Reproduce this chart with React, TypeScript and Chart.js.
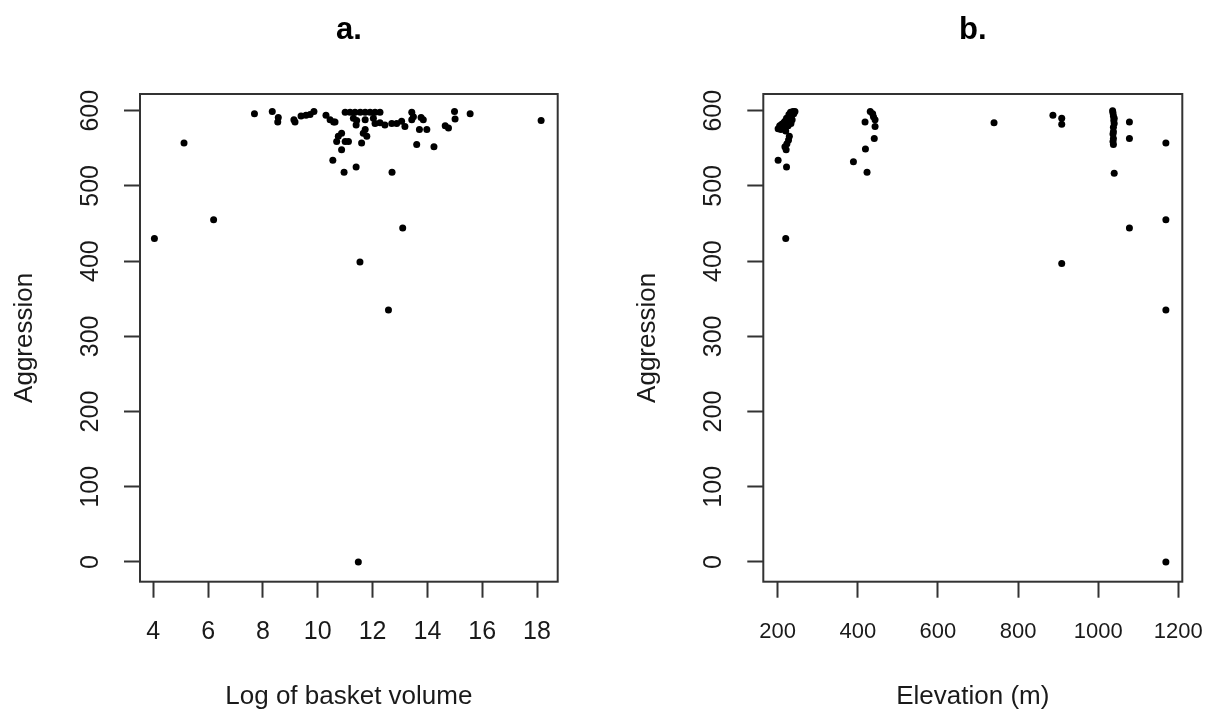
import React, { useEffect, useRef } from "react";
import { Chart, registerables } from "chart.js";

Chart.register(...registerables);

// ---- Data ----
const volumeLog = [
  4.04, 5.12, 6.2, 7.69, 8.34, 8.56, 8.54, 9.13, 9.17, 9.39, 9.57, 9.72, 9.86,
  10.3, 10.45, 10.58, 10.63, 11.0, 11.18, 11.36, 11.55, 11.73, 11.91, 12.09, 12.27,
  11.3, 11.42, 11.4, 11.73, 12.03, 12.09, 12.27, 12.45, 12.7, 12.88, 13.06, 13.18,
  13.43, 13.43, 13.49, 13.77, 13.85, 13.71, 13.98, 14.65, 14.77, 14.99, 15.01, 15.56,
  18.15, 10.87, 10.75, 10.69, 11.0, 11.12, 11.66, 11.6, 11.73, 11.79, 10.87, 10.55,
  10.96, 11.4, 12.71, 13.61, 14.24, 13.1, 11.54, 12.58, 11.48,
];
const volumeAggression = [
  430, 557, 455, 596, 599, 591, 585, 588, 585, 593, 594, 595, 599,
  594, 588, 585, 585, 598, 598, 598, 598, 598, 598, 598, 598,
  590, 587, 581, 588, 590, 583, 584, 581, 583, 583, 586, 579,
  598, 588, 592, 591, 588, 575, 575, 580, 577, 599, 589, 596,
  587, 570, 566, 559, 559, 559, 570, 557, 575, 566, 548, 534,
  518, 525, 518, 555, 552, 444, 399, 335, 0,
];

const elevation = [
  243, 238, 232, 240, 235, 228, 230, 222, 225, 218, 215, 210, 205, 201, 208, 213,
  220, 226, 233, 236, 229, 227, 223, 218, 221, 201, 222, 220,
  431, 439, 443, 418, 443, 441, 419, 389, 423, 437,
  740,
  887, 909, 909, 909,
  1036, 1037, 1038, 1040, 1039, 1040, 1038, 1038, 1037, 1038, 1037, 1038, 1040,
  1078, 1078, 1078,
  1169, 1169, 1169, 1169,
];
const elevationAggression = [
  599, 599, 598, 596, 594, 595, 591, 590, 587, 586, 584, 582, 580, 576, 575, 578,
  573, 580, 583, 588, 566, 561, 556, 552, 548, 534, 525, 430,
  599, 592, 588, 585, 579, 563, 549, 532, 518, 596,
  584,
  594, 590, 582, 397,
  600, 597, 593, 590, 587, 583, 578, 572, 569, 563, 559, 555, 517,
  585, 563, 444,
  557, 455, 335, 0,
];

const aggressionTicks = [0, 100, 200, 300, 400, 500, 600];
const volumeTicks = [4, 6, 8, 10, 12, 14, 16, 18];
const elevationTicks = [200, 400, 600, 800, 1000, 1200];

const panelTitles = ["a.", "b."];
const xTitles = ["Log of basket volume", "Elevation (m)"];
const yTitle = "Aggression";

const FONT = "'Liberation Sans', Arial, Helvetica, sans-serif";
const INK = "#1a1a1a";
const LINE = "#333333";

type PanelSpec = {
  xs: number[];
  ys: number[];
  xTicks: number[];
  xMin: number;
  xMax: number;
  title: string;
  xTitle: string;
  yAxisWidth: number;
  padRight: number;
  xTickSize: number;
  xTickPadding: number;
  yTitlePad: number;
};

const CANVAS_H = 715;
const AREA_BOTTOM = 581.7;
const Y_LABEL_OFFSET = 49;

function buildChart(canvas: HTMLCanvasElement, spec: PanelSpec) {
  const boxPlugin = {
    id: "rbox",
    afterDraw(chart: any) {
      const { ctx, chartArea: a } = chart;
      ctx.save();
      ctx.strokeStyle = LINE;
      ctx.lineWidth = 2;
      ctx.strokeRect(a.left, a.top, a.right - a.left, a.bottom - a.top);
      const ys = chart.scales.y;
      ctx.fillStyle = INK;
      ctx.font = `25px ${FONT}`;
      ctx.textAlign = "center";
      ctx.textBaseline = "middle";
      ys.ticks.forEach((t: any) => {
        const y = ys.getPixelForValue(t.value);
        ctx.save();
        ctx.translate(a.left - Y_LABEL_OFFSET, y);
        ctx.rotate(-Math.PI / 2);
        ctx.fillText(String(t.value), 0, 0);
        ctx.restore();
      });
      ctx.restore();
    },
  };

  const points = spec.xs.map((x, i) => ({ x, y: spec.ys[i] }));

  return new Chart(canvas, {
    type: "scatter",
    data: {
      datasets: [
        {
          data: points,
          backgroundColor: "#000",
          borderColor: "#000",
          borderWidth: 0,
          pointRadius: 3.5,
          pointHoverRadius: 3.5,
        },
      ],
    },
    options: {
      responsive: false,
      animation: false,
      devicePixelRatio: 1,
      layout: { padding: { left: 0, right: spec.padRight, top: 0, bottom: 0 } },
      plugins: {
        legend: { display: false },
        tooltip: { enabled: false },
        title: {
          display: true,
          text: spec.title,
          fullSize: false,
          color: "#000",
          font: { family: FONT, size: 31, weight: "bold" },
          padding: { top: 11.5, bottom: 45.3 },
        },
      },
      scales: {
        x: {
          type: "linear",
          min: spec.xMin,
          max: spec.xMax,
          afterBuildTicks: (scale: any) => {
            scale.ticks = spec.xTicks.map((v) => ({ value: v }));
          },
          afterFit: (scale: any) => {
            scale.height = CANVAS_H - AREA_BOTTOM;
            scale.paddingLeft = 0;
            scale.paddingRight = 0;
          },
          border: { display: false },
          grid: {
            display: true,
            drawOnChartArea: false,
            drawTicks: true,
            tickLength: 16,
            tickWidth: 2,
            tickColor: LINE,
            color: LINE,
          },
          ticks: {
            autoSkip: false,
            maxRotation: 0,
            minRotation: 0,
            color: INK,
            padding: spec.xTickPadding,
            font: { family: FONT, size: spec.xTickSize },
            callback: (v: any) => String(v),
          },
          title: {
            display: true,
            text: spec.xTitle,
            color: INK,
            font: { family: FONT, size: 26 },
            padding: { top: 0, bottom: 2.4 },
          },
        },
        y: {
          type: "linear",
          min: -26.2,
          max: 622.2,
          afterBuildTicks: (scale: any) => {
            scale.ticks = aggressionTicks.map((v) => ({ value: v }));
          },
          afterFit: (scale: any) => {
            scale.width = spec.yAxisWidth;
            scale.paddingTop = 0;
            scale.paddingBottom = 0;
          },
          border: { display: false },
          grid: {
            display: true,
            drawOnChartArea: false,
            drawTicks: true,
            tickLength: 16,
            tickWidth: 2,
            tickColor: LINE,
            color: LINE,
          },
          ticks: { display: false },
          title: {
            display: true,
            text: yTitle,
            color: INK,
            font: { family: FONT, size: 26 },
            padding: { top: spec.yTitlePad, bottom: 0 },
          },
        },
      },
    },
    plugins: [boxPlugin],
  });
}

export default function App() {
  const refA = useRef<HTMLCanvasElement | null>(null);
  const refB = useRef<HTMLCanvasElement | null>(null);

  useEffect(() => {
    if (!refA.current || !refB.current) return;
    const a = buildChart(refA.current, {
      xs: volumeLog,
      ys: volumeAggression,
      xTicks: volumeTicks,
      xMin: 3.514,
      xMax: 18.755,
      title: panelTitles[0],
      xTitle: xTitles[0],
      yAxisWidth: 140,
      padRight: 42.3,
      xTickSize: 25,
      xTickPadding: 19.3,
      yTitlePad: 9.4,
    });
    const b = buildChart(refB.current, {
      xs: elevation,
      ys: elevationAggression,
      xTicks: elevationTicks,
      xMin: 164,
      xMax: 1210,
      title: panelTitles[1],
      xTitle: xTitles[1],
      yAxisWidth: 163.3,
      padRight: 22.7,
      xTickSize: 22,
      xTickPadding: 21.1,
      yTitlePad: 32.4,
    });
    return () => {
      a.destroy();
      b.destroy();
    };
  }, []);

  return (
    <div
      style={{
        position: "absolute",
        left: 0,
        top: 0,
        width: 1205,
        height: 715,
        background: "#fff",
      }}
    >
      <canvas
        ref={refA}
        width={600}
        height={715}
        style={{ position: "absolute", left: 0, top: 0, width: 600, height: 715 }}
      />
      <canvas
        ref={refB}
        width={605}
        height={715}
        style={{ position: "absolute", left: 600, top: 0, width: 605, height: 715 }}
      />
    </div>
  );
}
